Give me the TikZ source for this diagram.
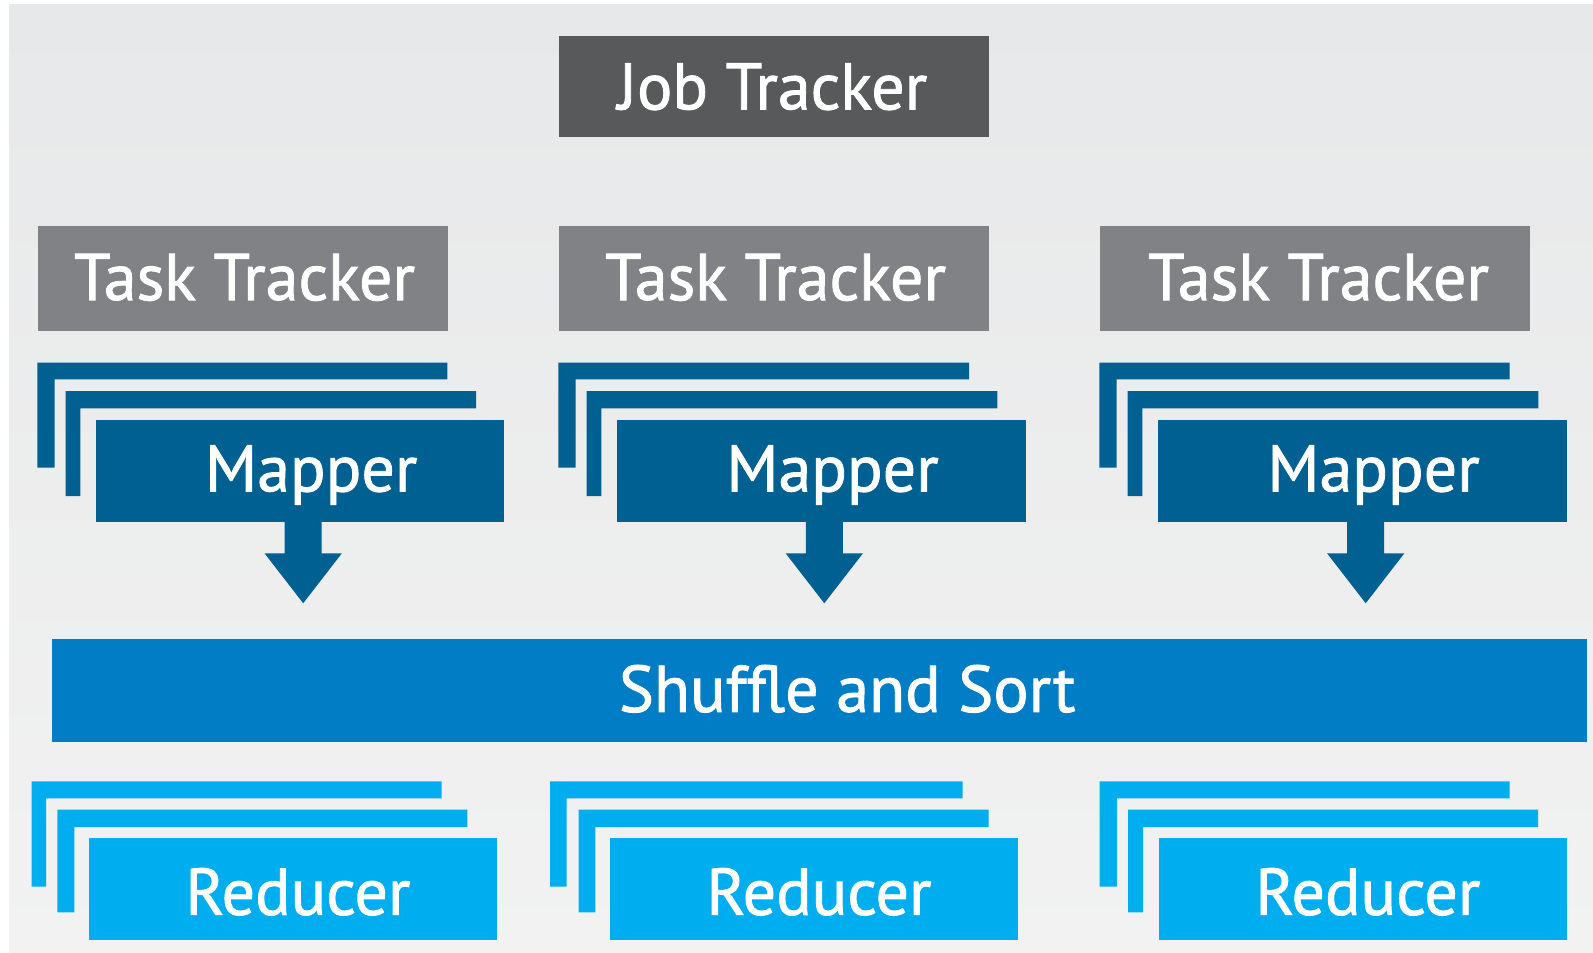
\documentclass[tikz,border=0pt]{standalone}
\usepackage{fontspec}
\setmainfont{PT Sans}
\newfontfamily\tagfamily[FakeBold=1.3]{PT Sans}
\usepackage{tikz}
\usetikzlibrary{positioning, calc}

\definecolor{bgtop}{HTML}{E7E8E9}
\definecolor{bgbot}{HTML}{F2F2F2}
\definecolor{jobgray}{HTML}{58595B}
\definecolor{taskgray}{HTML}{818285}
\definecolor{mapblue}{HTML}{006092}
\definecolor{sortblue}{HTML}{007DC5}
\definecolor{redblue}{HTML}{00AEEF}

\tikzset{
  box/.style={rectangle, draw=none, outer sep=0pt, inner sep=0pt},
  tag/.style={text=white, font={\tagfamily\fontsize{66pt}{72pt}\selectfont}, text height=46.2pt, text depth=0pt, inner sep=0pt},
  jobbox/.style={box, fill=jobgray, minimum width=430pt, minimum height=101.4pt},
  taskbox/.style={box, fill=taskgray, minimum width=430pt, minimum height=105pt},
  mapbox/.style={box, fill=mapblue, minimum width=408.4pt, minimum height=101.7pt},
  sortbox/.style={box, fill=sortblue, minimum width=1535pt, minimum height=102.7pt},
  redbox/.style={box, fill=redblue, minimum width=407.7pt, minimum height=101.7pt}
}

\begin{document}
\begin{tikzpicture}[x=1pt, y=-1pt]
    \useasboundingbox (0,0) rectangle (1593,953);
    \fill[top color=bgtop, bottom color=bgbot] (9,4) rectangle (1593,953);

    % trackers
    \node[jobbox, label={[tag,xshift=-1pt]center:Job Tracker}] (job) at (773.5,86.3) {};
    \node[taskbox, minimum width=410pt, label={[tag,xshift=2pt,yshift=1.5pt]center:Task Tracker}] (task1) at (242.5,278.5) {};
    \node[taskbox, label={[tag,xshift=2pt,yshift=1.5pt]center:Task Tracker}] (task2) at (773.5,278.5) {};
    \node[taskbox, label={[tag,xshift=4pt,yshift=1.5pt]center:Task Tracker}] (task3) at (1314.5,278.5) {};

    % mapper stacks
    \fill[mapblue] (37.3,362.7) -- ++(410,0) -- ++(0,16.6) -- ++(-392.6,0) -- ++(0,88.4) -- ++(-17.4,0) -- cycle;
    \fill[mapblue] (65.7,391) -- ++(410.3,0) -- ++(0,17.3) -- ++(-395.7,0) -- ++(0,87.7) -- ++(-14.6,0) -- cycle;
    \fill[mapblue] (558.3,362.7) -- ++(410.7,0) -- ++(0,16.6) -- ++(-393.3,0) -- ++(0,88.4) -- ++(-17.4,0) -- cycle;
    \fill[mapblue] (586.7,391) -- ++(410.6,0) -- ++(0,17.3) -- ++(-396,0) -- ++(0,87.7) -- ++(-14.6,0) -- cycle;
    \fill[mapblue] (1099.3,362.7) -- ++(410.4,0) -- ++(0,16.6) -- ++(-393,0) -- ++(0,88.4) -- ++(-17.4,0) -- cycle;
    \fill[mapblue] (1127.7,391) -- ++(410.6,0) -- ++(0,17.3) -- ++(-396,0) -- ++(0,87.7) -- ++(-14.6,0) -- cycle;
    \node[mapbox, label={[tag,xshift=11pt,yshift=2.5pt]center:Mapper}] (map1) at (300.2,470.8) {};
    \node[mapbox, label={[tag,xshift=11pt,yshift=2.5pt]center:Mapper}] (map2) at (821.5,470.8) {};
    \node[mapbox, label={[tag,xshift=11pt,yshift=2.5pt]center:Mapper}] (map3) at (1362.5,470.8) {};

    % block arrows
    \fill[mapblue] ([xshift=-15.5pt,yshift=1pt]map1.south) -- ++(0,32.6) -- ++(-20.2,0) -- ++(38.7,50) -- ++(38.7,-50) -- ++(-20.2,0) -- ++(0,-32.6) -- cycle;
    \fill[mapblue] ([xshift=-15.7pt,yshift=1pt]map2.south) -- ++(0,32.6) -- ++(-20.2,0) -- ++(38.7,50) -- ++(38.7,-50) -- ++(-20.2,0) -- ++(0,-32.6) -- cycle;
    \fill[mapblue] ([xshift=-15.3pt,yshift=1pt]map3.south) -- ++(0,32.6) -- ++(-20.2,0) -- ++(38.7,50) -- ++(38.7,-50) -- ++(-20.2,0) -- ++(0,-32.6) -- cycle;

    \node[sortbox, label={[tag,xshift=28pt,yshift=1.5pt]center:Shuffle and Sort}] (sort) at (819.2,690.3) {};

    % reducer stacks
    \fill[redblue] (31.7,781.3) -- ++(410,0) -- ++(0,17) -- ++(-395.7,0) -- ++(0,88.4) -- ++(-14.3,0) -- cycle;
    \fill[redblue] (57.3,809.7) -- ++(410,0) -- ++(0,17.3) -- ++(-393,0) -- ++(0,85.3) -- ++(-17,0) -- cycle;
    \fill[redblue] (550,781.3) -- ++(412.7,0) -- ++(0,17) -- ++(-396,0) -- ++(0,88.4) -- ++(-16.7,0) -- cycle;
    \fill[redblue] (578.7,809.7) -- ++(410,0) -- ++(0,17.3) -- ++(-393.3,0) -- ++(0,85.3) -- ++(-16.7,0) -- cycle;
    \fill[redblue] (1099.5,781.3) -- ++(410,0) -- ++(0,17) -- ++(-392.7,0) -- ++(0,88.4) -- ++(-17.3,0) -- cycle;
    \fill[redblue] (1128,809.7) -- ++(410,0) -- ++(0,17.3) -- ++(-395,0) -- ++(0,85.3) -- ++(-15,0) -- cycle;
    \node[redbox, label={[tag,xshift=5pt,yshift=-2.5pt]center:Reducer}] (red1) at (292.9,889.2) {};
    \node[redbox, label={[tag,xshift=5pt,yshift=-2.5pt]center:Reducer}] (red2) at (814,889.2) {};
    \node[redbox, label={[tag,xshift=5pt,yshift=-2.5pt]center:Reducer}] (red3) at (1362.8,889.2) {};
  \end{tikzpicture}
\end{document}
